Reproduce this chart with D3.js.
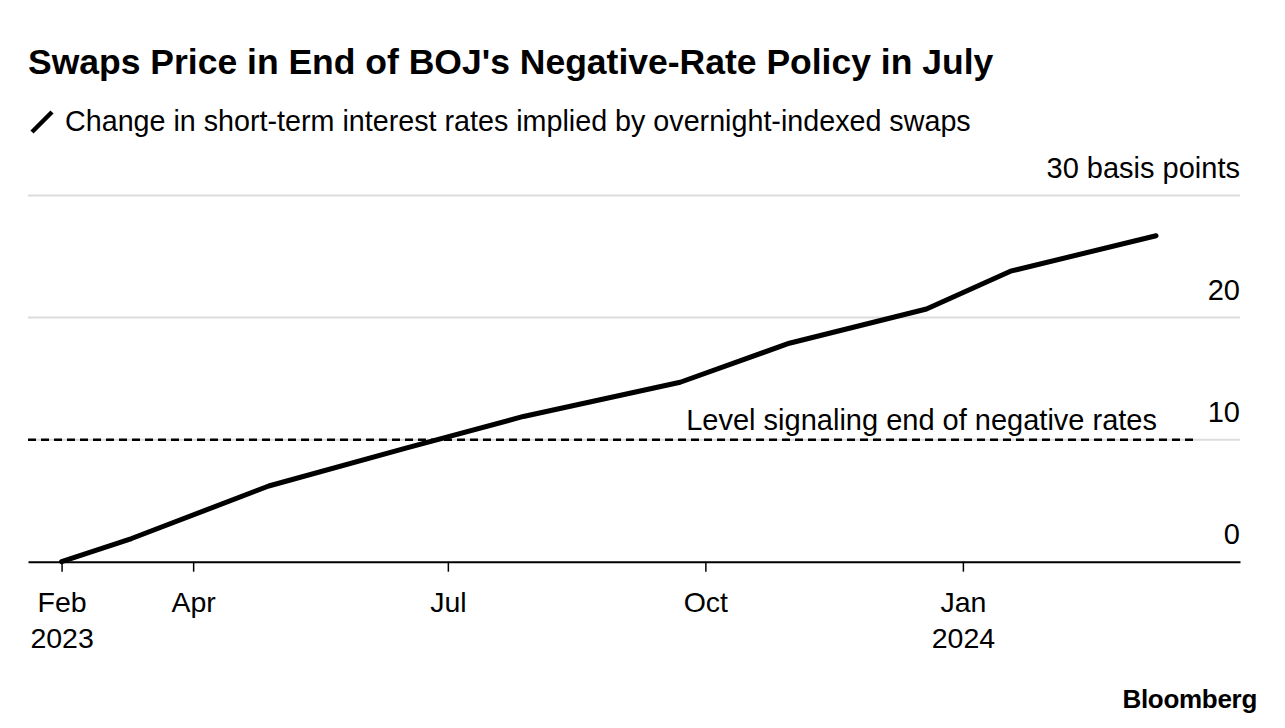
<!DOCTYPE html>
<html><head><meta charset="utf-8">
<script src="https://cdn.jsdelivr.net/npm/d3@7"></script>
<style>
body{margin:0;background:#fff;}
svg{display:block;font-family:"Liberation Sans",Arial,sans-serif;}
</style></head>
<body>
<svg id="chart" width="1285" height="728"></svg>
<script>
const dates = ["2023-02-13","2023-03-10","2023-04-28","2023-06-16","2023-07-28","2023-09-22","2023-10-31","2023-12-19","2024-01-18","2024-03-10"];
const values = [0, 1.9, 6.2, 9.3, 11.9, 14.7, 17.9, 20.7, 23.8, 26.7];
const yTicks = [0, 10, 20, 30];
const xTickDates = ["2023-02-13","2023-04-01","2023-07-01","2023-10-01","2024-01-01"];
const xTickLabels = [["Feb","2023"],["Apr"],["Jul"],["Oct"],["Jan","2024"]];
const thresholdValue = 10;
const thresholdLabel = "Level signaling end of negative rates";

const parse = d3.timeParse("%Y-%m-%d");
const data = dates.map((d,i)=>({date:parse(d), value:values[i]}));

const svg = d3.select("#chart");
const pLeft = 28, pRight = 1240, pTop = 195.5, pBottom = 561.7;

const x = d3.scaleTime().domain([parse("2023-02-01"), parse("2024-04-09")]).range([pLeft, pRight]);
const y = d3.scaleLinear().domain([0, 30]).range([pBottom, pTop]);

// Title
svg.append("text").attr("x", 28).attr("y", 74).attr("font-size", 35.5).attr("font-weight", "bold")
  .attr("fill","#000").attr("letter-spacing","0").text("Swaps Price in End of BOJ's Negative-Rate Policy in July");
// legend
svg.append("line").attr("x1",32).attr("y1",132).attr("x2",52).attr("y2",112).attr("stroke","#000").attr("stroke-width",4.5).attr("stroke-linecap","butt");
svg.append("text").attr("x", 65).attr("y", 131).attr("font-size", 28.7).attr("fill","#000")
  .text("Change in short-term interest rates implied by overnight-indexed swaps");

// grid
const g = svg.append("g");
g.selectAll(".grid").data(yTicks.filter(t=>t>0)).join("line")
  .attr("x1", pLeft).attr("x2", pRight).attr("y1", d=>y(d)).attr("y2", d=>y(d))
  .attr("stroke","#dcdcdc").attr("stroke-width",2);

// y labels
g.selectAll(".ylab").data(yTicks).join("text")
  .attr("x", pRight).attr("y", d=>y(d)-18).attr("text-anchor","end").attr("font-size",29).attr("fill","#000")
  .text(d=> d===30 ? "30 basis points" : d);

// threshold
g.append("line").attr("x1", pLeft).attr("x2", 1194).attr("y1", y(thresholdValue)).attr("y2", y(thresholdValue))
  .attr("stroke","#000").attr("stroke-width",2.5).attr("stroke-dasharray","8,5");
g.append("text").attr("x", 1157).attr("y", y(thresholdValue)-10).attr("text-anchor","end").attr("font-size",29).attr("fill","#000")
  .text(thresholdLabel);

// x axis
const xAxis = d3.axisBottom(x).tickValues(xTickDates.map(parse)).tickSize(10).tickSizeOuter(0).tickFormat("");
const ax = svg.append("g").attr("transform", `translate(0,${pBottom})`).call(xAxis);
ax.select(".domain").attr("stroke","#000").attr("stroke-width",2);
ax.selectAll(".tick line").attr("stroke","#000").attr("stroke-width",1.5);
ax.selectAll(".tick").each(function(d,i){
  const t = d3.select(this).append("text").attr("fill","#000").attr("font-size",28.5).attr("text-anchor","middle").attr("font-family","Liberation Sans, Arial, sans-serif");
  xTickLabels[i].forEach((s,j)=>{
    t.append("tspan").attr("x",0).attr("y", 50 + j*36).text(s);
  });
});

// line
const line = d3.line().x(d=>x(d.date)).y(d=>y(d.value));
svg.append("path").datum(data).attr("d", line).attr("fill","none").attr("stroke","#000")
  .attr("stroke-width",5).attr("stroke-linejoin","round").attr("stroke-linecap","round");

// source
svg.append("text").attr("x", 1257).attr("y", 708).attr("text-anchor","end").attr("font-size",26).attr("font-weight","bold")
  .attr("letter-spacing","-0.3").attr("fill","#000").text("Bloomberg");
</script>
</body></html>
